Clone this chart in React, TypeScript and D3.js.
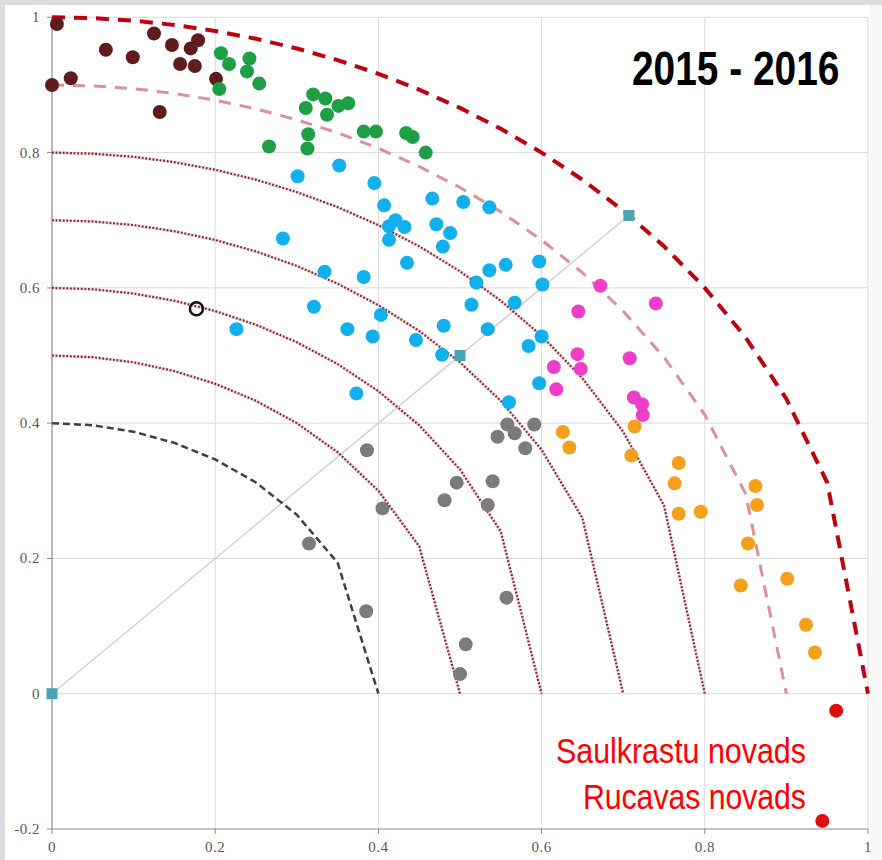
import React from "react";
import * as d3 from "d3";

const W = 882;
const H = 860;

const xTicks = [0, 0.2, 0.4, 0.6, 0.8, 1];
const yTicks = [-0.2, 0, 0.2, 0.4, 0.6, 0.8, 1];
const xTickLabels = ["0", "0.2", "0.4", "0.6", "0.8", "1"];
const yTickLabels = ["-0.2", "0", "0.2", "0.4", "0.6", "0.8", "1"];

const dottedRadii = [0.5, 0.6, 0.7, 0.8];
const blackRadius = 0.4;
const pinkRadius = 0.9;
const redRadius = 1.0;

const refSquares: [number, number][] = [
  [0, 0],
  [0.5, 0.5],
  [0.707, 0.707],
];

const brownPts: [number, number][] = [
  [0.006, 0.99], [0.0, 0.9], [0.023, 0.91], [0.066, 0.952], [0.099, 0.941],
  [0.125, 0.976], [0.147, 0.959], [0.157, 0.931], [0.175, 0.928], [0.17, 0.954],
  [0.179, 0.966], [0.201, 0.909], [0.132, 0.86],
];

const greenPts: [number, number][] = [
  [0.207, 0.947], [0.217, 0.931], [0.242, 0.939], [0.239, 0.92], [0.254, 0.902],
  [0.205, 0.894], [0.266, 0.809], [0.32, 0.886], [0.335, 0.88], [0.311, 0.866],
  [0.337, 0.856], [0.351, 0.869], [0.363, 0.873], [0.314, 0.827], [0.313, 0.806],
  [0.382, 0.831], [0.397, 0.831], [0.434, 0.829], [0.442, 0.823], [0.458, 0.8],
];

const bluePts: [number, number][] = [
  [0.301, 0.765], [0.352, 0.781], [0.395, 0.755], [0.407, 0.722], [0.466, 0.732],
  [0.504, 0.727], [0.536, 0.719], [0.421, 0.7], [0.413, 0.691], [0.432, 0.69],
  [0.471, 0.694], [0.488, 0.681], [0.413, 0.671], [0.479, 0.661], [0.283, 0.673],
  [0.435, 0.637], [0.334, 0.624], [0.382, 0.616], [0.536, 0.626], [0.556, 0.634],
  [0.597, 0.639], [0.52, 0.608], [0.601, 0.605], [0.321, 0.572], [0.403, 0.56],
  [0.514, 0.575], [0.567, 0.578], [0.362, 0.539], [0.393, 0.528], [0.446, 0.523],
  [0.48, 0.544], [0.534, 0.539], [0.6, 0.528], [0.584, 0.514], [0.478, 0.501],
  [0.373, 0.444], [0.597, 0.459], [0.56, 0.431], [0.226, 0.539],
];

const magentaPts: [number, number][] = [
  [0.672, 0.603], [0.74, 0.577], [0.645, 0.565], [0.644, 0.502], [0.648, 0.48],
  [0.708, 0.496], [0.713, 0.438], [0.723, 0.428], [0.724, 0.412], [0.615, 0.483],
  [0.618, 0.45],
];

const orangePts: [number, number][] = [
  [0.626, 0.387], [0.634, 0.364], [0.714, 0.395], [0.71, 0.352], [0.768, 0.341],
  [0.763, 0.311], [0.768, 0.266], [0.795, 0.269], [0.862, 0.307], [0.864, 0.279],
  [0.853, 0.222], [0.844, 0.16], [0.901, 0.17], [0.924, 0.102], [0.935, 0.061],
];

const grayPts: [number, number][] = [
  [0.558, 0.398], [0.567, 0.385], [0.546, 0.38], [0.591, 0.398], [0.58, 0.363],
  [0.386, 0.36], [0.496, 0.312], [0.54, 0.314], [0.481, 0.286], [0.534, 0.279],
  [0.405, 0.274], [0.315, 0.222], [0.385, 0.122], [0.557, 0.142], [0.507, 0.073],
  [0.5, 0.029],
];

const redPts: [number, number][] = [
  [0.961, -0.025], [0.944, -0.188],
];

const openCircle: [number, number] = [0.177, 0.569];

const title = "2015 - 2016";
const redLabels = ["Saulkrastu novads", "Rucavas novads"];

const series = [
  { pts: brownPts, color: "#5e1c1c" },
  { pts: greenPts, color: "#1f9f45" },
  { pts: bluePts, color: "#0fb0ec" },
  { pts: magentaPts, color: "#ee3ec9" },
  { pts: orangePts, color: "#f5a01a" },
  { pts: grayPts, color: "#7b7b7b" },
  { pts: redPts, color: "#e00d0d" },
];

export default function App() {
  const x = d3.scaleLinear().domain([0, 1]).range([52, 868]);
  const y = d3.scaleLinear().domain([-0.2, 1]).range([829, 17.3]);

  const arcPts = (r: number): [number, number][] => {
    const xs = d3.range(0, r - 1e-9, 0.05);
    const p: [number, number][] = xs.map((v) => [v, Math.sqrt(Math.max(0, r * r - v * v))]);
    p.push([r, 0]);
    return p;
  };
  const line = d3
    .line<[number, number]>()
    .x((d) => x(d[0]))
    .y((d) => y(d[1]));

  const serif = "Liberation Serif, DejaVu Serif, serif";
  const sans = "Liberation Sans, Arial, sans-serif";

  return (
    <svg
      width={W}
      height={H}
      style={{ position: "absolute", left: 0, top: 0, display: "block" }}
    >
      <rect x={0} y={0} width={W} height={H} fill="#dcdde1" />
      <rect x={5} y={5} width={W - 5} height={H - 5} fill="#ffffff" />
      <rect x={870} y={5} width={12} height={H - 5} fill="#f7f7f8" />

      {/* gridlines */}
      {yTicks.filter((t) => t > -0.2).map((t) => (
        <line key={"gy" + t} x1={x(0)} x2={x(1)} y1={y(t)} y2={y(t)} stroke="#d9d9d9" strokeWidth={1} />
      ))}
      {xTicks.filter((t) => t > 0).map((t) => (
        <line key={"gx" + t} x1={x(t)} x2={x(t)} y1={y(1)} y2={y(-0.2)} stroke="#d9d9d9" strokeWidth={1} />
      ))}

      {/* axes */}
      <line x1={x(0)} x2={x(0)} y1={y(1)} y2={y(-0.2)} stroke="#8a8a8a" strokeWidth={1.2} />
      <line x1={x(0)} x2={x(1)} y1={y(-0.2)} y2={y(-0.2)} stroke="#8a8a8a" strokeWidth={1.2} />
      {yTicks.map((t, i) => (
        <g key={"ty" + t}>
          <line x1={x(0) - 5} x2={x(0)} y1={y(t)} y2={y(t)} stroke="#8a8a8a" strokeWidth={1} />
          <text
            x={40}
            y={y(t) + 5}
            textAnchor="end"
            fontFamily={serif}
            fontSize={15}
            letterSpacing={0.5}
            fill="#595959"
          >
            {yTickLabels[i]}
          </text>
        </g>
      ))}
      {xTicks.map((t, i) => (
        <g key={"tx" + t}>
          <line x1={x(t)} x2={x(t)} y1={y(-0.2)} y2={y(-0.2) + 5} stroke="#8a8a8a" strokeWidth={1} />
          <text
            x={x(t)}
            y={852}
            textAnchor="middle"
            fontFamily={serif}
            fontSize={15}
            letterSpacing={0.5}
            fill="#595959"
          >
            {xTickLabels[i]}
          </text>
        </g>
      ))}

      {/* diagonal */}
      <line
        x1={x(refSquares[0][0])}
        y1={y(refSquares[0][1])}
        x2={x(refSquares[2][0])}
        y2={y(refSquares[2][1])}
        stroke="#d0d0d0"
        strokeWidth={1.5}
      />

      {/* arcs */}
      {dottedRadii.map((r) => (
        <path
          key={"d" + r}
          d={line(arcPts(r)) || ""}
          fill="none"
          stroke="#e8b4b8"
          strokeWidth={3}
          opacity={0.5}
        />
      ))}
      {dottedRadii.map((r) => (
        <path
          key={"dd" + r}
          d={line(arcPts(r)) || ""}
          fill="none"
          stroke="#7e2a36"
          strokeWidth={2.2}
          strokeDasharray="1.8 1.8"
        />
      ))}
      <path
        d={line(arcPts(blackRadius)) || ""}
        fill="none"
        stroke="#404040"
        strokeWidth={2.5}
        strokeDasharray="7 4"
      />
      <path
        d={line(arcPts(pinkRadius)) || ""}
        fill="none"
        stroke="#d99298"
        strokeWidth={3}
        strokeDasharray="12 9"
      />
      <path
        d={line(arcPts(redRadius)) || ""}
        fill="none"
        stroke="#c00010"
        strokeWidth={4}
        strokeDasharray="13 9"
      />

      {/* points */}
      {series.map((s, si) =>
        s.pts.map((p, i) => (
          <circle key={si + "-" + i} cx={x(p[0])} cy={y(p[1])} r={7} fill={s.color} />
        ))
      )}

      <circle cx={x(openCircle[0])} cy={y(openCircle[1])} r={6.5} fill="none" stroke="#111" strokeWidth={2.5} />

      {/* squares */}
      {refSquares.map((p, i) => (
        <rect key={"sq" + i} x={x(p[0]) - 5.5} y={y(p[1]) - 5.5} width={11} height={11} fill="#4aa3b7" />
      ))}

      {/* texts */}
      <text
        transform="translate(632,85) scale(0.81,1)"
        fontFamily={sans}
        fontWeight="bold"
        fontSize={48}
        fill="#000"
      >
        {title}
      </text>
      <text
        transform="translate(556,763) scale(0.868,1)"
        fontFamily={sans}
        fontSize={35}
        fill="#ff0000"
      >
        {redLabels[0]}
      </text>
      <text
        transform="translate(583,809) scale(0.862,1)"
        fontFamily={sans}
        fontSize={35}
        fill="#ff0000"
      >
        {redLabels[1]}
      </text>
    </svg>
  );
}
